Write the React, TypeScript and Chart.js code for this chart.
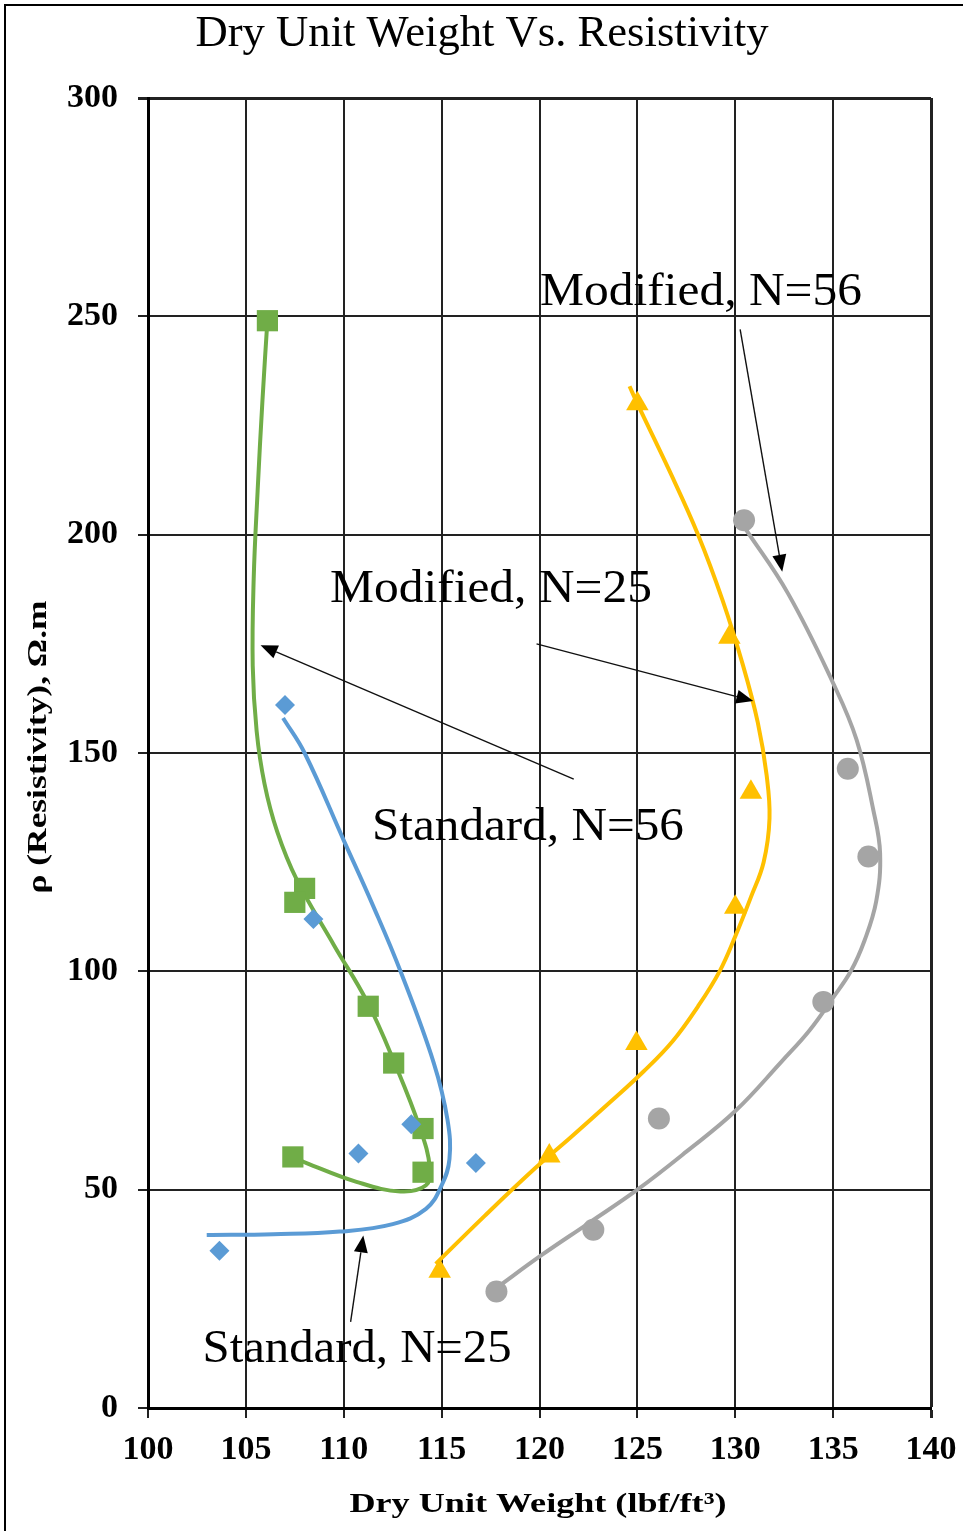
import React, { useEffect, useRef } from "react";
import { Chart, registerables } from "chart.js";
Chart.register(...registerables);

// ---------- data ----------
const X_MIN = 100;
const X_MAX = 140;
const X_STEP = 5;
const Y_MIN = 0;
const Y_MAX = 300;
const Y_STEP = 50;

const TITLE = "Dry Unit Weight Vs. Resistivity";
const X_TITLE = "Dry Unit Weight (lbf/ft\u00B3)";
const Y_TITLE = "\u03C1 (Resistivity), \u03A9.m";

// Standard, N=25 (blue diamonds)
const std25X = [107.0, 108.45, 113.45, 110.75, 116.75, 103.65];
const std25Y = [161, 112, 65, 58.3, 56.1, 36];
const std25CurveX = [106.9, 108.0, 110.0, 111.5, 112.9, 114.6, 115.3, 115.4, 115.0, 114.2, 112.5, 109.8, 106.4, 103.0];
const std25CurveY = [158, 150, 130, 115, 100, 79, 66, 57, 51, 45.6, 42.1, 40.4, 39.8, 39.6];

// Standard, N=56 (green squares)
const std56X = [106.1, 108.0, 107.5, 111.25, 112.55, 114.05, 114.05, 107.4];
const std56Y = [249, 119, 115.8, 92, 79, 64, 54, 57.5];
const std56CurveX = [106.1, 105.85, 105.6, 105.4, 105.35, 105.55, 105.95, 106.6, 107.6, 109.5, 111.2, 112.6, 113.9, 114.4, 114.2, 112.9, 110.65, 108.1, 107.4];
const std56CurveY = [249, 231, 210, 190, 170, 155, 143, 132, 121, 106, 93, 79, 64, 55, 51, 49.6, 51.8, 56.1, 57.5];

// Modified, N=25 (yellow triangles)
const mod25X = [125.0, 129.7, 130.8, 130.0, 124.95, 120.5, 114.9];
const mod25Y = [230, 176.5, 141, 114.7, 83.5, 57.7, 31.3];
const mod25CurveX = [124.6, 125.0, 126.6, 128.1, 129.35, 130.4, 131.15, 131.6, 131.75, 131.45, 130.8, 130.0, 129.2, 128.1, 126.8, 125.3, 123.6, 121.6, 119.8, 117.2, 114.7];
const mod25CurveY = [234, 230, 215, 200, 185, 170, 157, 145, 135, 125, 117, 108, 100, 92, 84, 77, 70, 62, 55, 44, 33];

// Modified, N=56 (gray circles)
const mod56X = [130.45, 135.75, 136.8, 134.5, 126.1, 122.75, 117.8];
const mod56Y = [203.3, 146.4, 126.3, 93, 66.3, 40.8, 26.7];
const mod56CurveX = [130.5, 132.7, 135.0, 136.2, 137.05, 137.4, 137.2, 136.6, 135.9, 135.0, 133.8, 132.4, 130.0, 127.5, 125.0, 122.5, 120.1, 117.8];
const mod56CurveY = [201.5, 186.5, 166, 153, 137, 127, 116, 107, 100, 94, 86.5, 79.5, 68, 58.7, 50, 42.3, 35, 27.5];

// annotation labels (center x, baseline y in data units)
const LABEL_TEXTS = ["Modified, N=56", "Modified, N=25", "Standard, N=56", "Standard, N=25"];
const LABEL_X = [128.25, 117.52, 119.41, 110.68];
const LABEL_Y = [252.6, 184.6, 130.1, 10.5];

// annotation arrows: from (x1,y1) to tip (x2,y2), data units
const ARROW_X1 = [130.25, 119.85, 121.75, 110.35];
const ARROW_Y1 = [247, 175, 144, 19.7];
const ARROW_X2 = [132.4, 130.92, 105.75, 111.0];
const ARROW_Y2 = [191.5, 161.9, 174.7, 39.5];

const BLUE = "#5B9BD5";
const GREEN = "#70AD47";
const YELLOW = "#FFC000";
const GRAY = "#A5A5A5";

const zip = (xs: number[], ys: number[]) => xs.map((x, i) => ({ x, y: ys[i] }));

const SERIF = '"Liberation Serif", "Times New Roman", serif';

function fitText(ctx: CanvasRenderingContext2D, text: string, cx: number, by: number, width: number, font: string) {
  ctx.save();
  ctx.font = font;
  ctx.textAlign = "center";
  ctx.textBaseline = "alphabetic";
  const w = ctx.measureText(text).width;
  ctx.translate(cx, by);
  ctx.scale(width / w, 1);
  ctx.fillText(text, 0, 0);
  ctx.restore();
}

const decorPlugin = {
  id: "decor",
  beforeDraw(chart: any) {
    const { ctx, width, height } = chart;
    ctx.save();
    ctx.fillStyle = "#fff";
    ctx.fillRect(0, 0, width, height);
    ctx.restore();
  },
  afterDraw(chart: any) {
    const { ctx } = chart;
    const xs = chart.scales.x;
    const ys = chart.scales.y;
    ctx.save();
    ctx.fillStyle = "#000";
    // title
    fitText(ctx, TITLE, 482, 46, 573, `44px ${SERIF}`);
    // x title
    fitText(ctx, X_TITLE, 538, 1512, 377, `bold 28px ${SERIF}`);
    // y title
    ctx.save();
    ctx.translate(46, 747);
    ctx.rotate(-Math.PI / 2);
    fitText(ctx, Y_TITLE, 0, 0, 293, `bold 28px ${SERIF}`);
    ctx.restore();

    // annotation labels
    const widths = [322, 322, 312, 309];
    LABEL_TEXTS.forEach((t, i) => {
      fitText(ctx, t, xs.getPixelForValue(LABEL_X[i]), ys.getPixelForValue(LABEL_Y[i]), widths[i], `46px ${SERIF}`);
    });

    // arrows
    ctx.strokeStyle = "#111";
    ctx.fillStyle = "#000";
    ctx.lineWidth = 1.4;
    for (let i = 0; i < ARROW_X1.length; i++) {
      const x1 = xs.getPixelForValue(ARROW_X1[i]);
      const y1 = ys.getPixelForValue(ARROW_Y1[i]);
      const x2 = xs.getPixelForValue(ARROW_X2[i]);
      const y2 = ys.getPixelForValue(ARROW_Y2[i]);
      const ang = Math.atan2(y2 - y1, x2 - x1);
      const len = 17;
      const half = 7;
      const bx = x2 - Math.cos(ang) * len;
      const by = y2 - Math.sin(ang) * len;
      ctx.beginPath();
      ctx.moveTo(x1, y1);
      ctx.lineTo(bx, by);
      ctx.stroke();
      ctx.beginPath();
      ctx.moveTo(x2, y2);
      ctx.lineTo(bx + Math.sin(ang) * half, by - Math.cos(ang) * half);
      ctx.lineTo(bx - Math.sin(ang) * half, by + Math.cos(ang) * half);
      ctx.closePath();
      ctx.fill();
    }

    // outer frame (top + left)
    ctx.strokeStyle = "#000";
    ctx.lineWidth = 2;
    ctx.beginPath();
    ctx.moveTo(5, 1531);
    ctx.lineTo(5, 5);
    ctx.lineTo(963, 5);
    ctx.stroke();
    ctx.restore();
  },
};

export default function App() {
  const ref = useRef<HTMLCanvasElement | null>(null);
  useEffect(() => {
    if (!ref.current) return;
    const markerBase = { showLine: false, borderWidth: 0 };
    const curveBase = { showLine: true, pointRadius: 0, tension: 0.4, fill: false, borderWidth: 4 };
    const chart = new Chart(ref.current, {
      type: "scatter",
      data: {
        datasets: [
          { ...markerBase, label: "Standard, N=25", data: zip(std25X, std25Y), pointStyle: "rectRot", pointRadius: 10, backgroundColor: BLUE, borderColor: BLUE },
          { ...markerBase, label: "Standard, N=56", data: zip(std56X, std56Y), pointStyle: "rect", pointRadius: 15, backgroundColor: GREEN, borderColor: GREEN },
          { ...markerBase, label: "Modified, N=25", data: zip(mod25X, mod25Y), pointStyle: "triangle", pointRadius: 13, backgroundColor: YELLOW, borderColor: YELLOW },
          { ...markerBase, label: "Modified, N=56", data: zip(mod56X, mod56Y), pointStyle: "circle", pointRadius: 11, backgroundColor: GRAY, borderColor: GRAY },
          { ...curveBase, label: "std25 fit", data: zip(std25CurveX, std25CurveY), borderColor: BLUE, backgroundColor: BLUE },
          { ...curveBase, label: "std56 fit", data: zip(std56CurveX, std56CurveY), borderColor: GREEN, backgroundColor: GREEN },
          { ...curveBase, label: "mod25 fit", data: zip(mod25CurveX, mod25CurveY), borderColor: YELLOW, backgroundColor: YELLOW },
          { ...curveBase, label: "mod56 fit", data: zip(mod56CurveX, mod56CurveY), borderColor: GRAY, backgroundColor: GRAY },
        ],
      },
      options: {
        animation: false,
        responsive: true,
        maintainAspectRatio: false,
        layout: { padding: { left: 0, top: 98, right: 32, bottom: 0 } },
        plugins: { legend: { display: false }, tooltip: { enabled: false }, title: { display: false } },
        scales: {
          x: {
            type: "linear",
            min: X_MIN,
            max: X_MAX,
            ticks: { stepSize: X_STEP, color: "#000", padding: 12, font: { family: SERIF, size: 34, weight: "bold" } },
            grid: {
              color: "#222",
              lineWidth: (c: any) => (c.tick && c.tick.value === X_MAX ? 3 : 2),
              tickLength: 10,
            },
            border: { color: "#000", width: 3 },
            afterFit: (s: any) => { s.height = 123; s.paddingLeft = 0; s.paddingRight = 0; },
          },
          y: {
            type: "linear",
            min: Y_MIN,
            max: Y_MAX,
            ticks: { stepSize: Y_STEP, color: "#000", padding: 20, font: { family: SERIF, size: 34, weight: "bold" } },
            grid: {
              color: "#222",
              lineWidth: (c: any) => (c.tick && c.tick.value === Y_MAX ? 3 : 2),
              tickLength: 10,
            },
            border: { color: "#000", width: 3 },
            afterFit: (s: any) => { s.width = 148; s.paddingTop = 0; s.paddingBottom = 0; },
          },
        },
      },
      plugins: [decorPlugin],
    } as any);
    return () => chart.destroy();
  }, []);
  return (
    <div style={{ position: "absolute", left: 0, top: 0, width: 963, height: 1531 }}>
      <canvas ref={ref} />
    </div>
  );
}
